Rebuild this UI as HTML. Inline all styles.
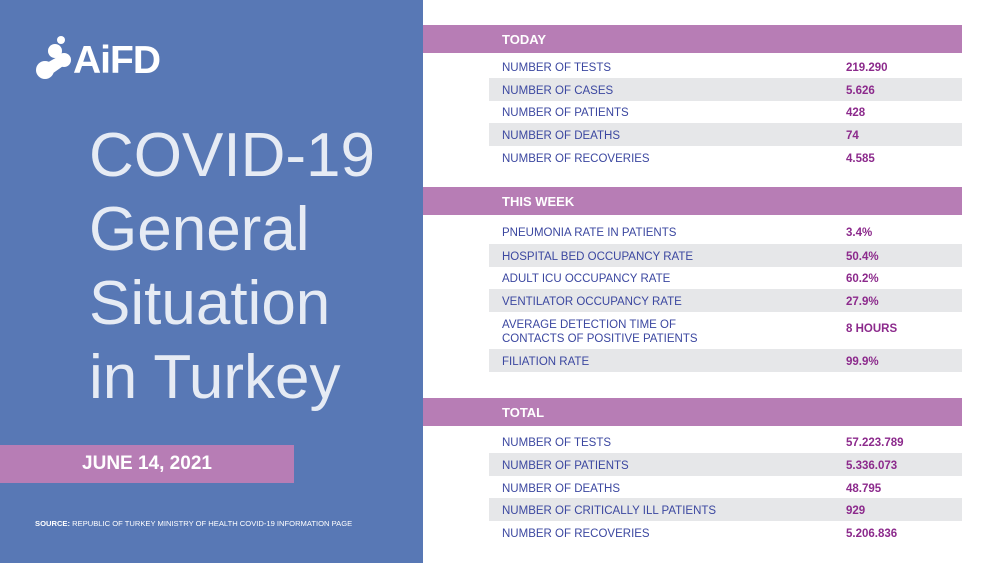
<!DOCTYPE html><html><head><style>
*{margin:0;padding:0}body{width:1000px;height:563px;position:relative;background:#fff;font-family:"Liberation Sans",sans-serif;overflow:hidden}
.a{position:absolute}
.l{background:#5878b5;left:0;top:0;width:423px;height:563px}
.h{background:#b77db5;left:423px;width:539px;height:28px;color:#fff;font-weight:bold;font-size:13px;line-height:30px;padding-left:79px;box-sizing:border-box}
.g{background:#e6e7e9;left:489px;width:473px;height:23px}
.t{left:502px;color:#3b47a0;font-size:11.5px;line-height:14px;margin-top:2px}
.v{left:846px;color:#8c2a8c;font-size:11.5px;font-weight:bold;line-height:14px;margin-top:2px}
.ti{color:rgba(255,255,255,0.85);font-size:62px;left:89px;line-height:74px}
</style></head><body>
<div class="a l"></div>
<div class="a" style="left:73px;top:39px;color:#fff;font-weight:bold;font-size:39px;letter-spacing:-1px">AiFD</div>
<svg class="a" style="left:34px;top:34px" width="44" height="50"><circle cx="27" cy="6" r="4" fill="#fff"/><circle cx="21" cy="17" r="7" fill="#fff"/><circle cx="11" cy="36" r="9" fill="#fff"/><circle cx="30" cy="26" r="7" fill="#fff"/><path d="M11 30 L25 22 L32 30 L15 42Z" fill="#fff"/></svg>
<div class="a ti" style="top:119px">COVID-19</div>
<div class="a ti" style="top:193px">General</div>
<div class="a ti" style="top:267px">Situation</div>
<div class="a ti" style="top:341px">in Turkey</div>
<div class="a" style="left:0;top:445px;width:294px;height:38px;background:#b77db5;color:#fff;font-weight:bold;font-size:19px;line-height:38px;text-align:center">JUNE 14, 2021</div>
<div class="a" style="left:35px;top:519px;color:#fff;font-size:7.6px"><b>SOURCE:</b> REPUBLIC OF TURKEY MINISTRY OF HEALTH COVID-19 INFORMATION PAGE</div>

<div class="a h" style="top:25px">TODAY</div>
<div class="a g" style="top:78px"></div><div class="a g" style="top:123px"></div>
<div class="a t" style="top:59px">NUMBER OF TESTS</div><div class="a v" style="top:59px">219.290</div>
<div class="a t" style="top:82px">NUMBER OF CASES</div><div class="a v" style="top:82px">5.626</div>
<div class="a t" style="top:104px">NUMBER OF PATIENTS</div><div class="a v" style="top:104px">428</div>
<div class="a t" style="top:127px">NUMBER OF DEATHS</div><div class="a v" style="top:127px">74</div>
<div class="a t" style="top:150px">NUMBER OF RECOVERIES</div><div class="a v" style="top:150px">4.585</div>

<div class="a h" style="top:187px">THIS WEEK</div>
<div class="a g" style="top:244px"></div><div class="a g" style="top:289px"></div><div class="a g" style="top:349px"></div>
<div class="a t" style="top:224px">PNEUMONIA RATE IN PATIENTS</div><div class="a v" style="top:224px">3.4%</div>
<div class="a t" style="top:248px">HOSPITAL BED OCCUPANCY RATE</div><div class="a v" style="top:248px">50.4%</div>
<div class="a t" style="top:270px">ADULT ICU OCCUPANCY RATE</div><div class="a v" style="top:270px">60.2%</div>
<div class="a t" style="top:293px">VENTILATOR OCCUPANCY RATE</div><div class="a v" style="top:293px">27.9%</div>
<div class="a t" style="top:316px">AVERAGE DETECTION TIME OF<br>CONTACTS OF POSITIVE PATIENTS</div><div class="a v" style="top:320px">8 HOURS</div>
<div class="a t" style="top:353px">FILIATION RATE</div><div class="a v" style="top:353px">99.9%</div>

<div class="a h" style="top:398px">TOTAL</div>
<div class="a g" style="top:453px"></div><div class="a g" style="top:498px"></div>
<div class="a t" style="top:434px">NUMBER OF TESTS</div><div class="a v" style="top:434px">57.223.789</div>
<div class="a t" style="top:457px">NUMBER OF PATIENTS</div><div class="a v" style="top:457px">5.336.073</div>
<div class="a t" style="top:480px">NUMBER OF DEATHS</div><div class="a v" style="top:480px">48.795</div>
<div class="a t" style="top:502px">NUMBER OF CRITICALLY ILL PATIENTS</div><div class="a v" style="top:502px">929</div>
<div class="a t" style="top:525px">NUMBER OF RECOVERIES</div><div class="a v" style="top:525px">5.206.836</div>
</body></html>
